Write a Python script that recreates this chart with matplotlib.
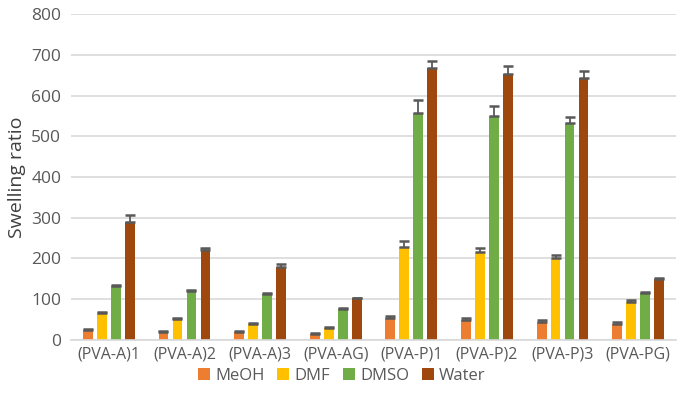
import matplotlib.pyplot as plt
import numpy as np

samples = ["(PVA-A)1", "(PVA-A)2", "(PVA-A)3", "(PVA-AG)",
           "(PVA-P)1", "(PVA-P)2", "(PVA-P)3", "(PVA-PG)"]
solvents = ["MeOH", "DMF", "DMSO", "Water"]

meoh = [25, 20, 20, 15, 55, 50, 45, 40]
dmf = [65, 52, 38, 30, 228, 215, 200, 92]
dmso = [132, 120, 112, 75, 558, 551, 533, 115]
water = [290, 220, 180, 102, 668, 653, 642, 150]

meoh_err = [3, 3, 3, 3, 3, 4, 4, 3]
dmf_err = [4, 3, 3, 3, 15, 10, 8, 6]
dmso_err = [3, 3, 3, 3, 30, 24, 14, 3]
water_err = [18, 5, 6, 2, 17, 19, 18, 3]

colors = ["#ED7D31", "#FFC000", "#70AD47", "#9E480E"]

plt.rcParams["font.family"] = ["Open Sans", "DejaVu Sans"]

fig = plt.figure(figsize=(6.79, 3.93), dpi=100)
ax = fig.add_axes([0.1046, 0.135, 0.891, 0.829])

x = np.arange(len(samples))
width = 0.13
step = 0.185
series = [meoh, dmf, dmso, water]
errs = [meoh_err, dmf_err, dmso_err, water_err]

for i, (vals, err, name, c) in enumerate(zip(series, errs, solvents, colors)):
    pos = x + (i - 1.5) * step
    ax.bar(pos, vals, width, color=c, label=name, zorder=2)
    # plus-only error bars, like the spreadsheet original
    ax.errorbar(pos, vals, yerr=[np.zeros(len(err)), err], fmt="none",
                ecolor="#595959", elinewidth=1.3, capsize=3.5, capthick=1.8,
                zorder=3)

ax.set_xlim(-0.5, len(samples) - 0.5)
ax.set_ylim(0, 800)
ax.set_yticks(np.arange(0, 801, 100))
ax.set_xticks(x)
ax.set_xticklabels(samples)
ax.tick_params(axis="x", length=0, labelsize=11.5, labelcolor="#595959", pad=5)
ax.tick_params(axis="y", length=0, labelsize=12.5, labelcolor="#595959", pad=7)
ax.yaxis.grid(True, color="#D9D9D9", linewidth=1.2, zorder=0)
ax.set_axisbelow(True)
for s in ["top", "right", "left"]:
    ax.spines[s].set_visible(False)
ax.spines["bottom"].set_color("#D9D9D9")
ax.spines["bottom"].set_linewidth(1.2)

ax.set_ylabel("Swelling ratio", fontsize=14, color="#404040", labelpad=4)

fig.legend(loc="lower center", bbox_to_anchor=(0.503, -0.015), ncol=4,
           frameon=False, fontsize=12, handlelength=0.75, handleheight=0.75,
           handletextpad=0.3, columnspacing=0.75, labelcolor="#595959")

plt.savefig("out.png", dpi=100)
plt.close()
